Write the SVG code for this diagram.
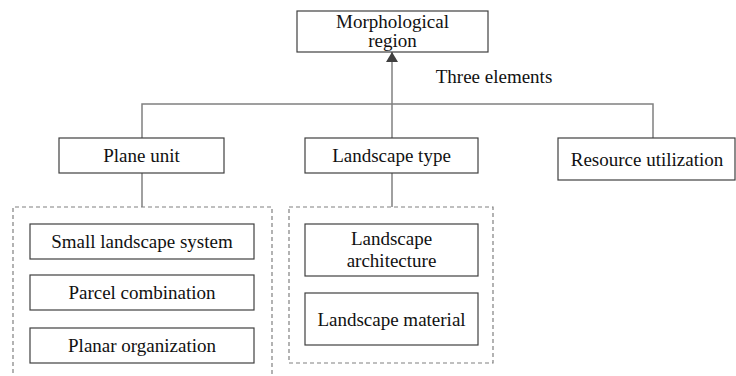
<svg xmlns="http://www.w3.org/2000/svg" width="736" height="376" viewBox="0 0 736 376">
<style>
.box{fill:#fff;stroke:#404040;stroke-width:1.2}
.grp{fill:none;stroke:#808080;stroke-width:1.2;stroke-dasharray:4 3}
.con{fill:none;stroke:#808080;stroke-width:1.5}
text{font-family:"Liberation Serif","Times New Roman",serif;font-size:19px;fill:#111;text-anchor:middle}
</style>
<defs>
<marker id="arr" viewBox="0 0 10 12" refX="10" refY="6" markerWidth="10" markerHeight="12" markerUnits="userSpaceOnUse" orient="auto">
<path d="M0,0 L10,6 L0,12 Z" fill="#404040"/>
</marker>
</defs>
<rect width="736" height="376" fill="#fff"/>
<g id="connectors">
<line class="con" x1="392" y1="104" x2="392" y2="52" marker-end="url(#arr)"/>
<polyline class="con" points="142,138 142,104 653,104 653,138"/>
<line class="con" x1="392" y1="104" x2="392" y2="138"/>
<line class="con" x1="142" y1="173" x2="142" y2="207"/>
<line class="con" x1="392" y1="173" x2="392" y2="207"/>
</g>
<g id="label-three">
<text x="494" y="83">Three elements</text>
</g>
<g id="morphological-region">
<rect class="box" x="297" y="11" width="191" height="41"/>
<text x="392.5" y="28">Morphological</text>
<text x="392.5" y="47">region</text>
</g>
<g id="plane-unit">
<rect class="box" x="59" y="138" width="165" height="35"/>
<text x="141.5" y="162">Plane unit</text>
</g>
<g id="landscape-type">
<rect class="box" x="305" y="138" width="173" height="35"/>
<text x="391.5" y="162">Landscape type</text>
</g>
<g id="resource-utilization">
<rect class="box" x="558" y="138" width="177" height="42"/>
<text x="647" y="166">Resource utilization</text>
</g>
<g id="plane-group">
<path class="grp" d="M13,380 L13,207 L272,207 L272,380"/>
</g>
<g id="small-landscape-system">
<rect class="box" x="30" y="224" width="224" height="35"/>
<text x="142" y="248">Small landscape system</text>
</g>
<g id="parcel-combination">
<rect class="box" x="30" y="275" width="224" height="35"/>
<text x="142" y="299">Parcel combination</text>
</g>
<g id="planar-organization">
<rect class="box" x="30" y="328" width="224" height="35"/>
<text x="142" y="352">Planar organization</text>
</g>
<g id="type-group">
<rect class="grp" x="289" y="207" width="204" height="156"/>
</g>
<g id="landscape-architecture">
<rect class="box" x="305" y="224" width="173" height="52"/>
<text x="391.5" y="245">Landscape</text>
<text x="391.5" y="267">architecture</text>
</g>
<g id="landscape-material">
<rect class="box" x="305" y="293" width="173" height="52"/>
<text x="391.5" y="326">Landscape material</text>
</g>
</svg>
